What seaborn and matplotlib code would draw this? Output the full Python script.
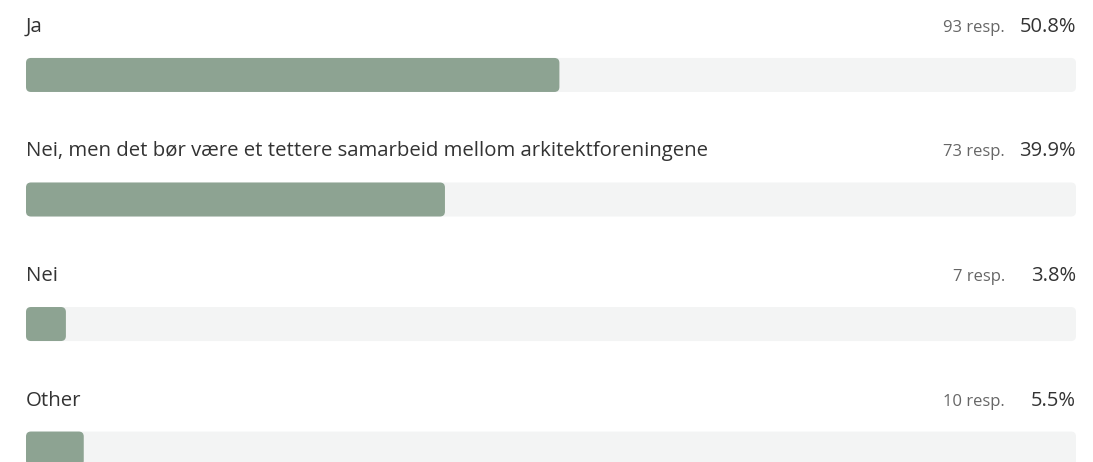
import matplotlib
matplotlib.use("Agg")
import matplotlib.pyplot as plt
import seaborn as sns
import pandas as pd
from matplotlib.patches import FancyBboxPatch

# data
categories = [
    "Ja",
    "Nei, men det bør være et tettere samarbeid mellom arkitektforeningene",
    "Nei",
    "Other",
]
responses = [93, 73, 7, 10]
percents = [50.8, 39.9, 3.8, 5.5]

FILL = "#8da392"
TRACK = "#f3f4f4"
TEXT = "#333333"
SUB = "#666666"

sns.set_theme(style="white")
plt.rcParams["font.family"] = ["Open Sans", "DejaVu Sans"]

df = pd.DataFrame({"label": categories, "pct": percents, "full": [100] * len(categories)})

fig = plt.figure(figsize=(10.93, 4.62), dpi=100)
ax = fig.add_axes([26 / 1093, 0, 1050 / 1093, 1])

bar_h = 34 / 124.5
sns.barplot(data=df, x="full", y="label", color=TRACK, width=bar_h, ax=ax, saturation=1)
sns.barplot(data=df, x="pct", y="label", color=FILL, width=bar_h, ax=ax, saturation=1)

ax.set_xlim(0, 100)
ax.set_ylim(3.108, -0.602)

# swap square bars for rounded ones
px_x = 100 / 1050
px_y = 1 / 124.5
for p in list(ax.patches):
    x, y = p.get_x(), p.get_y()
    w, h = p.get_width(), p.get_height()
    fc = p.get_facecolor()
    p.remove()
    r = min(5 * px_x, w / 2)
    ax.add_patch(FancyBboxPatch(
        (x, y), w, h,
        boxstyle=f"round,pad=0,rounding_size={r}",
        mutation_aspect=px_y / px_x,
        facecolor=fc, edgecolor="none",
    ))

# labels above each bar (baseline ~43px above bar centre)
off = -43 * px_y
for i, (lab, n, pct) in enumerate(zip(categories, responses, percents)):
    ax.text(0, i + off, lab, ha="left", va="baseline", fontsize=14.7, color=TEXT)
    ax.text(100, i + off, f"{pct:.1f}%", ha="right", va="baseline", fontsize=14.5, color=TEXT)
    ax.text(100 - 71 * px_x, i + off, f"{n} resp.", ha="right", va="baseline",
            fontsize=12, color=SUB)

ax.set_axis_off()
fig.savefig("out.png", dpi=100)
